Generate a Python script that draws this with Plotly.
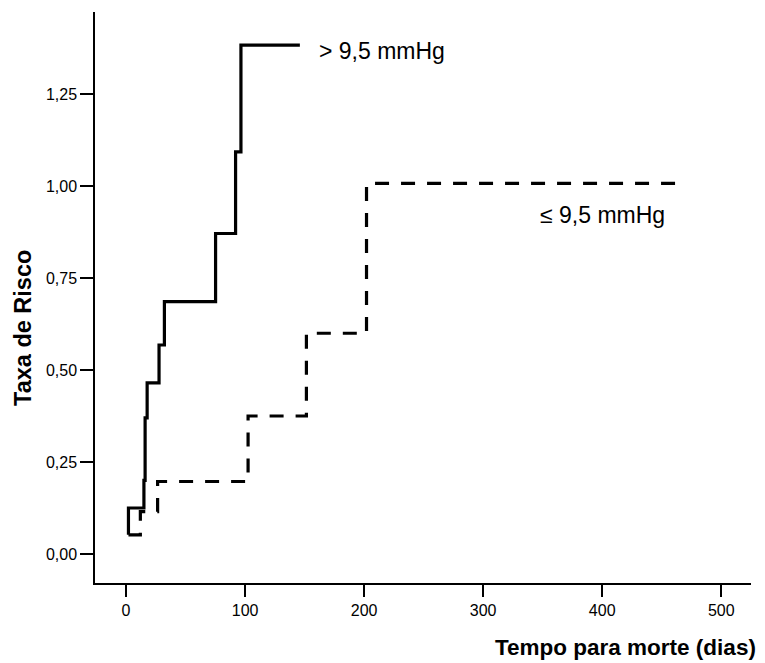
import plotly.graph_objects as go

# Cumulative hazard, group > 9,5 mmHg (solid)
high_days = [2, 2, 15, 16, 17.7, 27.7, 32.2, 75.2, 92, 96.5, 146]
high_hazard = [0.052, 0.125, 0.20, 0.37, 0.465, 0.568, 0.686, 0.871, 1.093, 1.383, 1.383]

# Cumulative hazard, group <= 9,5 mmHg (dashed)
low_days = [2, 12, 26.5, 102.5, 151.5, 202, 469]
low_hazard = [0.052, 0.115, 0.197, 0.375, 0.60, 1.007, 1.007]

group_labels = ["> 9,5 mmHg", "\u2264 9,5 mmHg"]
label_pos_x = [160, 346]
label_pos_y = [1.366, 0.92]

x_ticks = [0, 100, 200, 300, 400, 500]
y_ticks = [0.0, 0.25, 0.5, 0.75, 1.0, 1.25]

FONT = "Arial, 'Liberation Sans', sans-serif"

fig = go.Figure()
fig.add_trace(go.Scatter(x=high_days, y=high_hazard, mode="lines", line_shape="hv",
                         line=dict(color="black", width=3.2), showlegend=False, hoverinfo="skip"))
fig.add_trace(go.Scatter(x=low_days, y=low_hazard, mode="lines", line_shape="hv",
                         line=dict(color="black", width=3.2, dash="14px,12px"),
                         showlegend=False, hoverinfo="skip"))

for txt, lx, ly in zip(group_labels, label_pos_x, label_pos_y):
    fig.add_annotation(x=lx, y=ly, text=txt, showarrow=False, xanchor="left", yanchor="middle",
                       font=dict(family=FONT, size=23, color="black"))

# axis titles as annotations for precise placement
fig.add_annotation(xref="paper", yref="paper", x=1.0107, y=-0.1125, text="<b>Tempo para morte (dias)</b>",
                   showarrow=False, xanchor="right", yanchor="middle",
                   font=dict(family=FONT, size=22.5, color="black"))
fig.add_annotation(xref="paper", yref="paper", x=-0.1098, y=0.4466, text="<b>Taxa de Risco</b>",
                   showarrow=False, textangle=-90, xanchor="center", yanchor="middle",
                   font=dict(family=FONT, size=23.5, color="black"))

fig.update_layout(
    width=757, height=655,
    margin=dict(l=87, r=14, t=4, b=80),
    paper_bgcolor="white", plot_bgcolor="white",
    separators=",.",
    font=dict(family=FONT, color="black"),
    xaxis=dict(range=[-26.1, 525], tickvals=x_ticks, showgrid=False, zeroline=False,
               showline=True, linecolor="black", linewidth=1.5,
               ticks="outside", ticklen=12, tickwidth=2, tickcolor="black",
               tickfont=dict(family=FONT, size=16, color="black")),
    yaxis=dict(range=[-0.0788, 1.473], tickvals=y_ticks, tickformat=".2f", showgrid=False,
               zeroline=False, showline=True, linecolor="black", linewidth=1.5,
               ticks="outside", ticklen=13, tickwidth=2, tickcolor="black",
               tickfont=dict(family=FONT, size=16, color="black")),
)

fig.write_html("out.html")
